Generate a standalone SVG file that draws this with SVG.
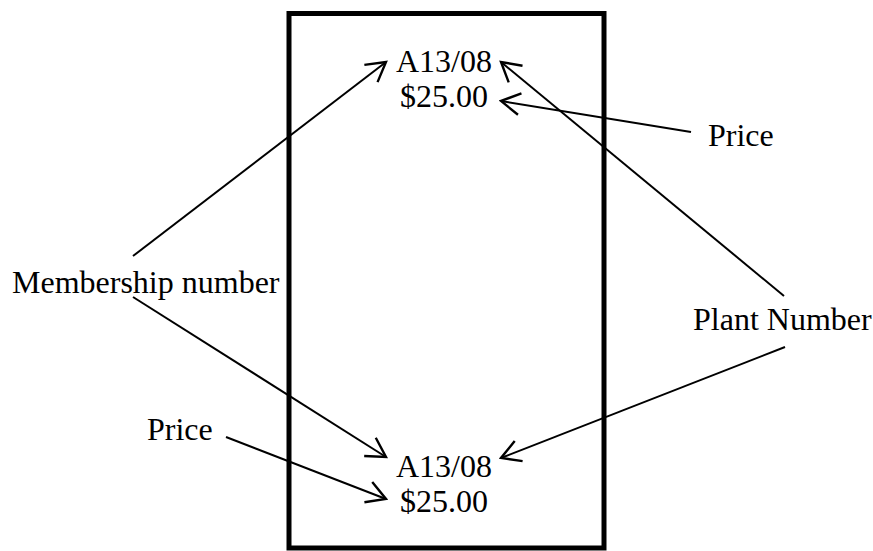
<svg xmlns="http://www.w3.org/2000/svg" width="873" height="551" viewBox="0 0 873 551">
<style>
text{font-family:"Liberation Serif","Times New Roman",serif;font-size:32px;fill:#000}
.c{stroke:#000;stroke-width:2;fill:none;marker-end:url(#a)}
.m{text-anchor:middle}
</style>
<defs>
<marker id="a" markerUnits="userSpaceOnUse" markerWidth="24" markerHeight="26" viewBox="-20 -12 22 24" refX="0" refY="0" orient="auto">
<path d="M-17.5,-10 L0,0 L-17.5,10" fill="none" stroke="#000" stroke-width="2.2"/>
</marker>
</defs>
<rect id="card" x="289" y="13.5" width="315" height="534.5" fill="#fff" stroke="#000" stroke-width="5"/>
<g id="top-label">
<text class="m" x="444" y="72">A13/08</text>
<text class="m" x="444" y="107">$25.00</text>
</g>
<g id="bottom-label">
<text class="m" x="444" y="477">A13/08</text>
<text class="m" x="444" y="512">$25.00</text>
</g>
<g id="membership"><text x="12" y="293">Membership number</text></g>
<g id="price-right"><text x="708" y="146">Price</text></g>
<g id="price-left"><text x="147" y="440">Price</text></g>
<g id="plant"><text x="693" y="330">Plant Number</text></g>
<g id="connectors">
<line class="c" x1="133" y1="256" x2="386" y2="62"/>
<line class="c" x1="133" y1="297" x2="386" y2="457"/>
<line class="c" x1="226" y1="437" x2="386" y2="499"/>
<line class="c" x1="691" y1="132" x2="501" y2="101"/>
<line class="c" x1="784" y1="296" x2="501" y2="62"/>
<line class="c" x1="785" y1="347" x2="501" y2="458"/>
</g>
</svg>
